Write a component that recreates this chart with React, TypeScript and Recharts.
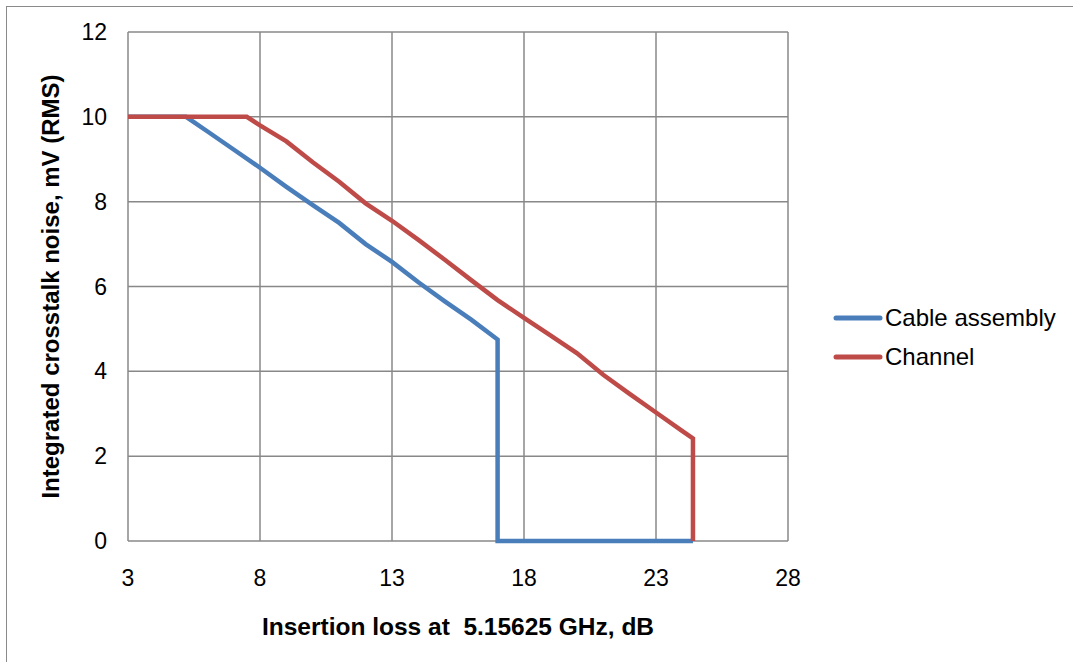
import React from "react";
import {
  LineChart,
  Line,
  XAxis,
  YAxis,
  CartesianGrid,
  Legend,
} from "recharts";

// insertion loss (dB) / crosstalk noise (mV RMS)
const cableX = [3, 5.2, 6, 7, 8, 9, 10, 11, 12, 13, 14, 15, 16, 17, 17, 24.4];
const cableY = [10, 10, 9.66, 9.23, 8.8, 8.35, 7.92, 7.5, 7.0, 6.58, 6.1, 5.65, 5.22, 4.75, 0, 0];

const channelX = [3, 7.5, 8, 9, 10, 11, 12, 13, 14, 15, 16, 17, 18, 19, 20, 21, 22, 23, 24, 24.4, 24.4];
const channelY = [10, 10, 9.8, 9.42, 8.93, 8.47, 7.96, 7.55, 7.1, 6.63, 6.15, 5.68, 5.26, 4.85, 4.43, 3.92, 3.47, 3.03, 2.59, 2.42, 0];

const xTicks = [3, 8, 13, 18, 23, 28];
const yTicks = [0, 2, 4, 6, 8, 10, 12];

const cableData = cableX.map((x, i) => ({ x, y: cableY[i] }));
const channelData = channelX.map((x, i) => ({ x, y: channelY[i] }));

const FONT = '"Liberation Sans", Arial, sans-serif';
const BLUE = "#4A7EBB";
const RED = "#BE4B48";

const renderLegend = (props: any) => {
  const { payload } = props;
  return (
    <div style={{ fontFamily: FONT, fontSize: 24, color: "#000" }}>
      {payload.map((entry: any) => (
        <div
          key={entry.value}
          style={{ display: "flex", alignItems: "center", height: 39 }}
        >
          <svg width={50} height={10}>
            <line
              x1={3}
              y1={5}
              x2={47}
              y2={5}
              stroke={entry.color}
              strokeWidth={5}
              strokeLinecap="round"
            />
          </svg>
          <span style={{ marginLeft: 2 }}>{entry.value}</span>
        </div>
      ))}
    </div>
  );
};

export default function App() {
  return (
    <div
      style={{
        position: "absolute",
        left: 0,
        top: 0,
        width: 1073,
        height: 662,
        overflow: "hidden",
        background: "#fff",
      }}
    >
      <div
        style={{
          position: "absolute",
          left: 6,
          top: 6,
          width: 1200,
          height: 800,
          border: "1.5px solid #8a8a8a",
        }}
      />
      <LineChart
        width={1073}
        height={662}
        margin={{ top: 32, right: 285, left: 8, bottom: 41 }}
        style={{ position: "absolute", left: 0, top: 0 }}
      >
        <CartesianGrid stroke="#888" strokeWidth={1.5} />
        <XAxis
          type="number"
          dataKey="x"
          domain={[3, 28]}
          ticks={xTicks}
          allowDataOverflow
          axisLine={false}
          tickLine={false}
          tickMargin={23}
          height={80}
          tick={{ fill: "#000", fontSize: 23, fontFamily: FONT }}
          label={{
            value: "Insertion loss at\u00a0 5.15625 GHz, dB",
            position: "bottom",
            offset: -3,
            style: {
              fill: "#000",
              fontSize: 24.5,
              fontWeight: "bold",
              fontFamily: FONT,
            },
          }}
        />
        <YAxis
          type="number"
          domain={[0, 12]}
          ticks={yTicks}
          axisLine={false}
          tickLine={false}
          tickMargin={15}
          width={120}
          tick={{ fill: "#000", fontSize: 23, fontFamily: FONT }}
          label={{
            value: "Integrated crosstalk noise, mV (RMS)",
            angle: -90,
            position: "insideLeft",
            offset: 42,
            style: {
              textAnchor: "middle",
              fill: "#000",
              fontSize: 24,
              fontWeight: "bold",
              fontFamily: FONT,
            },
          }}
        />
        <Legend
          layout="vertical"
          align="center"
          verticalAlign="middle"
          content={renderLegend}
          wrapperStyle={{ left: 833, top: 298, width: 240 }}
        />
        <Line
          data={cableData}
          dataKey="y"
          name="Cable assembly"
          type="linear"
          stroke={BLUE}
          strokeWidth={4.5}
          dot={false}
          activeDot={false}
          isAnimationActive={false}
        />
        <Line
          data={channelData}
          dataKey="y"
          name="Channel"
          type="linear"
          stroke={RED}
          strokeWidth={4.5}
          dot={false}
          activeDot={false}
          isAnimationActive={false}
        />
      </LineChart>
    </div>
  );
}
